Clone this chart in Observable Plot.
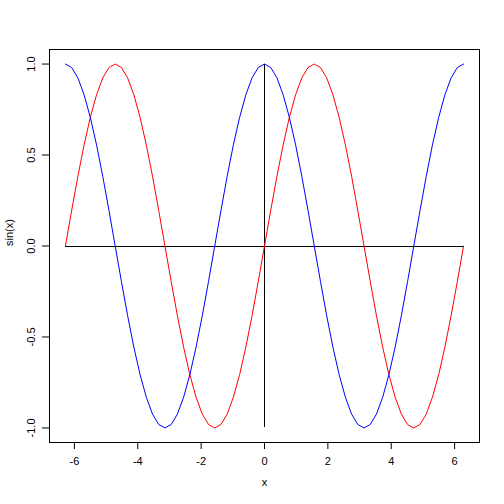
<!DOCTYPE html>
<html>
<head>
<meta charset="utf-8">
<script src="https://cdn.jsdelivr.net/npm/d3@7"></script>
<script src="https://cdn.jsdelivr.net/npm/@observablehq/plot@0.6"></script>
<style>
  html, body { margin: 0; padding: 0; background: #fff; }
  svg { display: block; }
</style>
</head>
<body>
<div id="chart"></div>
<script>
const xs = [-6.283,-6.087,-5.890,-5.694,-5.498,-5.301,-5.105,-4.909,-4.712,-4.516,-4.320,-4.123,-3.927,-3.731,-3.534,-3.338,
  -3.142,-2.945,-2.749,-2.553,-2.356,-2.160,-1.963,-1.767,-1.571,-1.374,-1.178,-0.982,-0.785,-0.589,-0.393,-0.196,
  0,0.196,0.393,0.589,0.785,0.982,1.178,1.374,1.571,1.767,1.963,2.160,2.356,2.553,2.749,2.945,
  3.142,3.338,3.534,3.731,3.927,4.123,4.320,4.516,4.712,4.909,5.105,5.301,5.498,5.694,5.890,6.087,6.283];
const sinVals = [0,0.195,0.383,0.556,0.707,0.831,0.924,0.981,1,0.981,0.924,0.831,0.707,0.556,0.383,0.195,
  0,-0.195,-0.383,-0.556,-0.707,-0.831,-0.924,-0.981,-1,-0.981,-0.924,-0.831,-0.707,-0.556,-0.383,-0.195,
  0,0.195,0.383,0.556,0.707,0.831,0.924,0.981,1,0.981,0.924,0.831,0.707,0.556,0.383,0.195,
  0,-0.195,-0.383,-0.556,-0.707,-0.831,-0.924,-0.981,-1,-0.981,-0.924,-0.831,-0.707,-0.556,-0.383,-0.195,0];
const cosVals = [1,0.981,0.924,0.831,0.707,0.556,0.383,0.195,0,-0.195,-0.383,-0.556,-0.707,-0.831,-0.924,-0.981,
  -1,-0.981,-0.924,-0.831,-0.707,-0.556,-0.383,-0.195,0,0.195,0.383,0.556,0.707,0.831,0.924,0.981,
  1,0.981,0.924,0.831,0.707,0.556,0.383,0.195,0,-0.195,-0.383,-0.556,-0.707,-0.831,-0.924,-0.981,
  -1,-0.981,-0.924,-0.831,-0.707,-0.556,-0.383,-0.195,0,0.195,0.383,0.556,0.707,0.831,0.924,0.981,1];
const xTicks = [-6,-4,-2,0,2,4,6];
const yTicks = [-1,-0.5,0,0.5,1];
const yTickLabels = ["-1.0","-0.5","0.0","0.5","1.0"];
const xLabel = "x";
const yLabel = "sin(x)";
const hAxis = [{x1: -6.283, x2: 6.283, y: 0}];
const vAxis = [{x: 0, y1: -1, y2: 1}];

const sinData = xs.map((x, i) => ({x, y: sinVals[i]}));
const cosData = xs.map((x, i) => ({x, y: cosVals[i]}));

const chart = Plot.plot({
  width: 504,
  height: 504,
  marginLeft: 49,
  marginRight: 25,
  marginTop: 49,
  marginBottom: 62,
  style: {fontFamily: "'Liberation Sans', Arial, Helvetica, sans-serif", fontSize: "11px", color: "black", background: "white"},
  x: {domain: [-6.786, 6.786]},
  y: {domain: [-1.08, 1.08]},
  marks: [
    Plot.frame({stroke: "black", strokeWidth: 1, shapeRendering: "crispEdges"}),
    Plot.axisX({ticks: xTicks, tickSize: 7, tickPadding: 8, tickFormat: d => d < 0 ? "-" + Math.abs(d) : String(d), label: null, fontSize: 11}),
    Plot.axisY({ticks: yTicks, tickSize: 7, tickFormat: () => "", label: null}),
    Plot.text(yTicks, {y: d => d, text: (d, i) => yTickLabels[i], frameAnchor: "left", dx: -18, rotate: -90, textAnchor: "middle", fontSize: 11, fill: "black"}),
    Plot.text([xLabel], {text: d => d, frameAnchor: "bottom", dy: 43, fontSize: 11, fill: "black"}),
    Plot.text([yLabel], {text: d => d, frameAnchor: "left", dx: -40, rotate: -90, fontSize: 11, fill: "black"}),
    Plot.ruleY(hAxis, {x1: "x1", x2: "x2", y: "y", stroke: "black", strokeWidth: 1, shapeRendering: "crispEdges"}),
    Plot.ruleX(vAxis, {x: "x", y1: "y1", y2: "y2", stroke: "black", strokeWidth: 1, shapeRendering: "crispEdges"}),
    Plot.line(sinData, {x: "x", y: "y", stroke: "#FF0000", strokeWidth: 1}),
    Plot.line(cosData, {x: "x", y: "y", stroke: "#0000FF", strokeWidth: 1})
  ]
});
document.getElementById("chart").appendChild(chart);
</script>
</body>
</html>
